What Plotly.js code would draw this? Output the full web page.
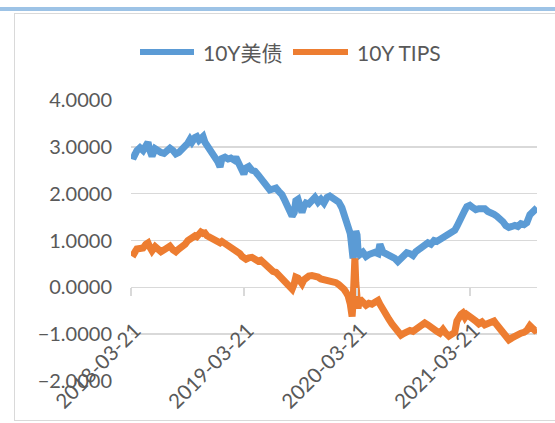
<!DOCTYPE html>
<html>
<head>
<meta charset="utf-8">
<script src="https://cdn.plot.ly/plotly-3.0.1.min.js"></script>
<style>
  html, body { margin: 0; padding: 0; background: #ffffff; }
  #wrap { position: relative; width: 555px; height: 423px; overflow: hidden; background: #ffffff; }
  #topbar { position: absolute; left: 0; top: 7px; width: 555px; height: 4px; background: #9DC3E6; }
  #frame { position: absolute; left: 14px; top: 13px; width: 600px; height: 408px; border: 1px solid #d9d9d9; box-sizing: border-box; }
  #chart { position: absolute; left: 0; top: 0; width: 555px; height: 423px; }
</style>
</head>
<body>
<div id="wrap">
  <div id="topbar"></div>
  <div id="frame"></div>
  <div id="chart"></div>
</div>
<script>
const seriesNames = ['10Y美债', '10Y TIPS'];
const tickDates = ['2018-03-21', '2019-03-21', '2020-03-21', '2021-03-21'];
const tickLabels = ['2018-03-21', '2019-03-21', '2020-03-21', '2021-03-21'];
const yTicks = [-2, -1, 0, 1, 2, 3, 4];

const dates = [
 '2018-03-21','2018-03-31','2018-04-09','2018-04-19','2018-04-29','2018-05-08','2018-05-15','2018-05-21','2018-05-28','2018-06-07',
 '2018-06-16','2018-06-26','2018-07-06','2018-07-15','2018-07-25','2018-08-04','2018-08-13','2018-08-23','2018-09-02','2018-09-12',
 '2018-09-21','2018-09-28','2018-10-04','2018-10-14','2018-10-20','2018-10-27','2018-11-02','2018-11-09','2018-11-15','2018-11-22',
 '2018-12-01','2018-12-11','2018-12-21','2018-12-27','2019-01-03','2019-01-09','2019-01-19','2019-01-29','2019-02-07','2019-02-17',
 '2019-02-23','2019-03-02','2019-03-08','2019-03-15','2019-03-21','2019-03-28','2019-04-06','2019-04-16','2019-04-26','2019-05-06',
 '2019-05-15','2019-05-25','2019-06-04','2019-06-13','2019-06-23','2019-07-03','2019-07-12','2019-07-22','2019-08-01','2019-08-11',
 '2019-08-17','2019-08-24','2019-08-31','2019-09-05','2019-09-12','2019-09-18','2019-09-25','2019-10-01','2019-10-08','2019-10-17',
 '2019-10-27','2019-11-06','2019-11-16','2019-11-25','2019-12-05','2019-12-15','2019-12-24','2020-01-03','2020-01-13','2020-01-22',
 '2020-02-01','2020-02-08','2020-02-14','2020-02-21','2020-02-28','2020-03-01','2020-03-05','2020-03-08','2020-03-11','2020-03-14',
 '2020-03-17','2020-03-21','2020-03-24','2020-03-30','2020-04-09','2020-04-19','2020-04-28','2020-05-08','2020-05-18','2020-05-28',
 '2020-06-03','2020-06-13','2020-06-22','2020-07-02','2020-07-12','2020-07-21','2020-07-31','2020-08-10','2020-08-20','2020-08-29',
 '2020-09-08','2020-09-18','2020-09-27','2020-10-07','2020-10-17','2020-10-26','2020-11-05','2020-11-15','2020-11-25','2020-12-04',
 '2020-12-14','2020-12-24','2021-01-02','2021-01-12','2021-01-22','2021-01-31','2021-02-07','2021-02-13','2021-02-20','2021-02-26',
 '2021-03-05','2021-03-11','2021-03-21','2021-03-31','2021-04-09','2021-04-19','2021-04-29','2021-05-08','2021-05-18','2021-05-28',
 '2021-06-07','2021-06-16','2021-06-26','2021-07-06','2021-07-15','2021-07-25','2021-08-04','2021-08-13','2021-08-23','2021-09-02',
 '2021-09-12','2021-09-21','2021-10-01','2021-10-07','2021-10-17','2021-10-24'
];

const ust10y = [
 2.82,2.80,2.92,2.98,2.92,3.02,3.10,2.92,2.80,2.96,
 2.90,2.88,2.86,2.90,2.97,2.92,2.85,2.88,2.95,2.98,
 3.08,3.16,3.10,3.20,3.22,3.14,3.20,3.22,3.10,3.04,
 2.95,2.86,2.75,2.68,2.57,2.75,2.78,2.74,2.76,2.72,
 2.78,2.66,2.62,2.48,2.42,2.55,2.58,2.50,2.48,2.40,
 2.32,2.22,2.12,2.08,2.10,2.12,2.05,1.98,1.85,1.70,
 1.58,1.52,1.60,1.85,1.88,1.72,1.60,1.72,1.80,1.78,
 1.85,1.92,1.82,1.88,1.80,1.92,1.95,1.90,1.88,1.82,
 1.70,1.58,1.42,1.30,1.15,1.05,0.85,0.62,0.70,1.00,
 1.20,1.12,0.82,0.70,0.75,0.66,0.70,0.72,0.75,0.72,
 0.92,0.75,0.72,0.70,0.66,0.62,0.55,0.62,0.72,0.74,
 0.72,0.68,0.76,0.82,0.85,0.90,0.95,0.92,1.00,0.98,
 1.02,1.05,1.10,1.12,1.15,1.22,1.30,1.40,1.50,1.58,
 1.65,1.72,1.75,1.70,1.66,1.68,1.66,1.68,1.62,1.60,
 1.56,1.52,1.48,1.40,1.32,1.28,1.30,1.32,1.30,1.36,
 1.34,1.38,1.55,1.58,1.66,1.70
];

const tips10y = [
 0.76,0.72,0.82,0.85,0.84,0.92,0.95,0.86,0.78,0.87,
 0.80,0.76,0.80,0.86,0.88,0.80,0.76,0.82,0.86,0.92,
 1.00,1.04,1.05,1.10,1.08,1.14,1.18,1.15,1.16,1.10,
 1.06,1.04,1.00,0.97,0.95,0.98,0.94,0.88,0.86,0.82,
 0.78,0.76,0.72,0.66,0.62,0.60,0.63,0.64,0.60,0.56,
 0.58,0.52,0.46,0.38,0.34,0.32,0.26,0.20,0.12,0.06,
 0.00,-0.04,0.08,0.22,0.20,0.12,0.08,0.16,0.22,0.24,
 0.25,0.24,0.22,0.18,0.16,0.15,0.16,0.12,0.10,0.06,
 0.02,-0.04,-0.10,-0.18,-0.35,-0.50,-0.62,-0.35,0.10,0.62,
 0.10,-0.30,-0.45,-0.25,-0.32,-0.38,-0.34,-0.36,-0.32,-0.28,
 -0.36,-0.45,-0.55,-0.68,-0.78,-0.86,-0.95,-1.02,-0.98,-0.96,
 -0.92,-0.94,-0.90,-0.88,-0.84,-0.76,-0.80,-0.86,-0.90,-0.94,
 -0.98,-0.90,-0.98,-1.04,-1.00,-0.96,-0.72,-0.62,-0.58,-0.55,
 -0.64,-0.58,-0.62,-0.66,-0.72,-0.78,-0.74,-0.80,-0.76,-0.74,
 -0.72,-0.80,-0.88,-0.96,-1.05,-1.12,-1.08,-1.04,-1.02,-0.98,
 -0.96,-0.92,-0.82,-0.88,-0.92,-0.90
];

const colors = ['#5B9BD5', '#ED7D31'];
const xRange = ['2018-03-21', '2021-10-24'];
const yRange = [-2, 4];

const FONT = 'Lato, "Noto Sans CJK SC", "Noto Sans", sans-serif';
const TXT = '#595959';

const traces = [
  { x: dates, y: ust10y, name: seriesNames[0], type: 'scatter', mode: 'lines',
    line: { color: colors[0], width: 7, shape: 'linear' } },
  { x: dates, y: tips10y, name: seriesNames[1], type: 'scatter', mode: 'lines',
    line: { color: colors[1], width: 7, shape: 'linear' } }
];

// custom legend (keys + labels) in paper coords
const L = 131, R = 537, T = 100, B = 381;
const px = v => (v - L) / (R - L);
const py = v => (B - v) / (B - T);
const legY = 52;
const shapes = [
  { type: 'line', xref: 'paper', yref: 'paper', x0: px(140), x1: px(194), y0: py(legY), y1: py(legY),
    line: { color: colors[0], width: 6 } },
  { type: 'line', xref: 'paper', yref: 'paper', x0: px(293), x1: px(348), y0: py(legY), y1: py(legY),
    line: { color: colors[1], width: 6 } }
];
const annotations = [
  { xref: 'paper', yref: 'paper', x: px(201), y: py(legY), xanchor: 'left', yanchor: 'middle',
    text: seriesNames[0], showarrow: false, font: { family: FONT, size: 21, color: TXT } },
  { xref: 'paper', yref: 'paper', x: px(355), y: py(legY), xanchor: 'left', yanchor: 'middle',
    text: seriesNames[1], showarrow: false, font: { family: FONT, size: 21, color: TXT } }
];

const layout = {
  width: 555, height: 423,
  margin: { l: L, r: 555 - R, t: T, b: 423 - B, pad: 0 },
  paper_bgcolor: 'rgba(0,0,0,0)',
  plot_bgcolor: 'rgba(0,0,0,0)',
  showlegend: false,
  font: { family: FONT, color: TXT },
  xaxis: {
    type: 'date', range: xRange,
    anchor: 'free', position: (0 - yRange[0]) / (yRange[1] - yRange[0]),
    tickmode: 'array', tickvals: tickDates, ticktext: tickLabels,
    tickangle: -45, tickfont: { family: FONT, size: 20.5, color: TXT },
    ticklabelstandoff: 14, ticklabelshift: 4,
    ticks: 'outside', ticklen: 8, tickwidth: 1.5, tickcolor: '#d9d9d9',
    showgrid: false, zeroline: false, showline: false, automargin: false
  },
  yaxis: {
    range: yRange, tickmode: 'array', tickvals: yTicks,
    tickformat: '.4f', tickfont: { family: FONT, size: 20, color: TXT },
    ticks: 'outside', ticklen: 14, tickcolor: 'rgba(0,0,0,0)',
    showgrid: true, gridcolor: '#d9d9d9', gridwidth: 1.5,
    zeroline: false, showline: false, automargin: false
  },
  shapes: shapes,
  annotations: annotations,
  hovermode: false
};

Plotly.newPlot('chart', traces, layout, { staticPlot: true, displayModeBar: false });
</script>
</body>
</html>
